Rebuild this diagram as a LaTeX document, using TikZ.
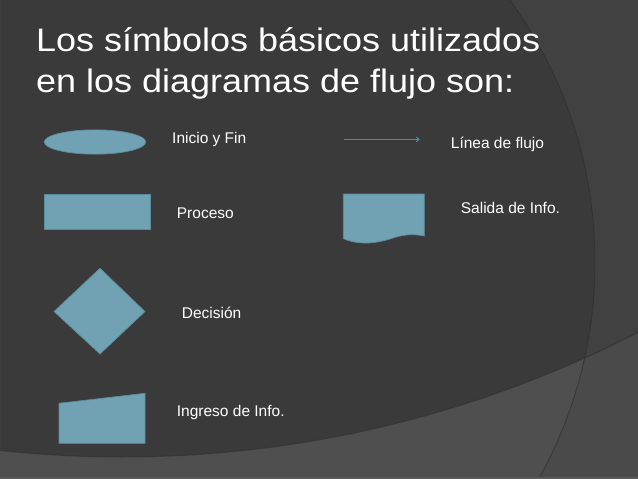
\documentclass[tikz,border=0pt]{standalone}
\usepackage{fontspec}
\setmainfont{Liberation Sans}
\usetikzlibrary{shapes.geometric,arrows.meta}
\definecolor{bgmain}{HTML}{3A3A3A}
\definecolor{bgright}{HTML}{414141}
\definecolor{bglowL}{HTML}{4F4F4F}
\definecolor{bglowR}{HTML}{4A4A4A}
\definecolor{bgedge}{HTML}{2E2E2E}
\definecolor{bgstrip}{HTML}{5A5A5A}
\definecolor{symfill}{HTML}{70A2B3}
\definecolor{symdraw}{HTML}{5B8C9D}
\definecolor{flowblue}{HTML}{3D90B5}
\tikzset{
  sym/.style={fill=symfill, draw=symdraw, line width=0.7pt},
  lbl/.style={anchor=base west, inner sep=0pt, text=white, font=\fontsize{15.5}{18}\selectfont},
  ttl/.style={anchor=base west, inner sep=0pt, text=white, font=\fontsize{32.5}{40}\selectfont},
  edgeline/.style={draw=bgedge, line width=1pt, opacity=0.6}
}
\begin{document}
\begin{tikzpicture}[x=1pt,y=-1pt]
\useasboundingbox (0,0) rectangle (638,479);
% background
\begin{scope}
  \clip (0,0) rectangle (638,479);
  \fill[bgright] (0,0) rectangle (638,479);
  \fill[bgmain] (150,262) circle (445pt);
  \fill[bglowR, even odd rule] (0,0) rectangle (638,479) (122,-671) circle (1128pt);
  \begin{scope}
    \clip (150,262) circle (445pt);
    \fill[bglowL, even odd rule] (0,0) rectangle (638,479) (122,-671) circle (1128pt);
  \end{scope}
  \draw[edgeline] (150,262) circle (445pt);
  \draw[edgeline] (122,-671) circle (1128pt);
  \fill[bgstrip] (0,476.5) rectangle (638,479);
\end{scope}
% title
\node[ttl] (t1) at (36,51) {\scalebox{1.107}[1]{Los símbolos básicos utilizados}};
\node[ttl] (t2) at (36,92) {\scalebox{1.107}[1]{en los diagramas de flujo son:}};
% symbols
\node[sym, ellipse, minimum width=101.4pt, minimum height=24.3pt, inner sep=0pt] (ellipse) at (95,142) {};
\node[sym, rectangle, minimum width=105.7pt, minimum height=35.3pt, inner sep=0pt] (proc) at (97.2,211.7) {};
\path[sym] (100,268.3) -- (145,311.5) -- (100,354) -- (54,311.5) -- cycle;
\node[inner sep=0pt] (dec) at (99.5,311.5) {};
\path[sym] (59,403.3) -- (145,393.3) -- (145,443.3) -- (59,443.3) -- cycle;
\node[inner sep=0pt] (ingr) at (102,420) {};
\path[sym] (343.3,194) -- (424.3,194) -- (424.3,236)
  .. controls (414,234) and (405,234) .. (393,238)
  .. controls (378,243) and (360,246) .. (343.3,238.5) -- cycle;
\node[inner sep=0pt] (sal) at (384,215) {};
\coordinate (a1) at (344,139.3);
\coordinate (a2) at (419.5,139.3);
\draw[flowblue, line width=1pt, -{To[length=3.5pt,width=5.5pt]}] (a1) -- (a2);
% labels
\node[lbl] (l1) at (172,143) {Inicio y Fin};
\node[lbl] (l2) at (176.7,218.3) {Proceso};
\node[lbl] (l3) at (181.7,318.3) {Decisión};
\node[lbl] (l4) at (176.7,416) {Ingreso de Info.};
\node[lbl] (l5) at (450.7,148.3) {Línea de flujo};
\node[lbl] (l6) at (460.7,213.3) {Salida de Info.};
\end{tikzpicture}
\end{document}
